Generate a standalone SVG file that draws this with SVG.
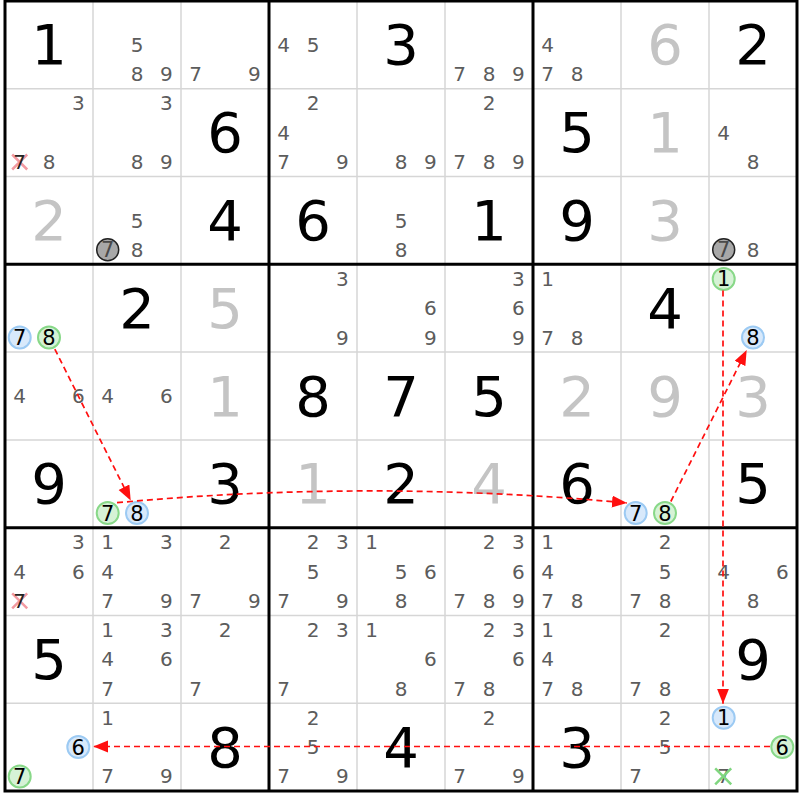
<svg xmlns="http://www.w3.org/2000/svg" width="800" height="800" viewBox="0 0 800 800">
<style>
text{font-family:"DejaVu Sans","Verdana",sans-serif;text-anchor:middle}
.b{font-size:56px;fill:#000}
.s{font-size:56px;fill:#c4c4c4}
.c{font-size:20px;fill:#5c5c5c}
.k{font-size:21px;fill:#000}
.kg{font-size:21px;fill:#4a4a4a}
.thin{stroke:#d6d6d6;stroke-width:1.5}
.thick{stroke:#000;stroke-width:3;fill:none}
.blue{fill:#d8e9fb;stroke:#9ccaf3;stroke-width:2}
.green{fill:#d6f2d6;stroke:#88d888;stroke-width:2}
.grey{fill:#a8a8a8;stroke:#222;stroke-width:1.5}
.xr{stroke:#f29aa2;stroke-width:2.5}
.xg{stroke:#7fd67f;stroke-width:2.5}
.arr{fill:none;stroke:#ff0f0f;stroke-width:1.7;stroke-dasharray:6 4}
</style>
<defs>
<marker id="ah" markerUnits="userSpaceOnUse" markerWidth="16" markerHeight="13" refX="15" refY="6" orient="auto">
<path d="M0,0 L15,6 L0,12 z" fill="#ff0f0f"/>
</marker>
</defs>
<rect x="0" y="0" width="800" height="800" fill="#fff"/>
<g id="grid">
<path class="thin" d="M93,1V791M181,1V791M357,1V791M445,1V791M621,1V791M709,1V791M5,88.8H797M5,176.6H797M5,352.1H797M5,439.9H797M5,615.5H797M5,703.2H797"/>
<path class="thick" d="M269,1V791M533,1V791M5,264.3H797M5,527.7H797"/>
<rect class="thick" x="5" y="1" width="792" height="790"/>
</g>
<!-- row 0 -->
<g id="r0c0"><text class="b" x="49" y="64.4">1</text></g>
<g id="r0c1"><text class="c" x="137" y="51.9">5</text><text class="c" x="137" y="81.2">8</text><text class="c" x="166.3" y="81.2">9</text></g>
<g id="r0c2"><text class="c" x="195.7" y="81.2">7</text><text class="c" x="254.3" y="81.2">9</text></g>
<g id="r0c3"><text class="c" x="283.7" y="51.9">4</text><text class="c" x="313" y="51.9">5</text></g>
<g id="r0c4"><text class="b" x="401" y="64.4">3</text></g>
<g id="r0c5"><text class="c" x="459.7" y="81.2">7</text><text class="c" x="489" y="81.2">8</text><text class="c" x="518.3" y="81.2">9</text></g>
<g id="r0c6"><text class="c" x="547.7" y="51.9">4</text><text class="c" x="547.7" y="81.2">7</text><text class="c" x="577" y="81.2">8</text></g>
<g id="r0c7"><text class="s" x="665" y="64.4">6</text></g>
<g id="r0c8"><text class="b" x="753" y="64.4">2</text></g>
<!-- row 1 -->
<g id="r1c0"><text class="c" x="78.3" y="110.4">3</text><path class="xr" d="M12.2,154.5L27.2,169.5M27.2,154.5L12.2,169.5"/><text class="k" x="19.7" y="169" style="font-size:20px;fill:#222">7</text><text class="c" x="49" y="169">8</text></g>
<g id="r1c1"><text class="c" x="166.3" y="110.4">3</text><text class="c" x="137" y="169">8</text><text class="c" x="166.3" y="169">9</text></g>
<g id="r1c2"><text class="b" x="225" y="152.2">6</text></g>
<g id="r1c3"><text class="c" x="313" y="110.4">2</text><text class="c" x="283.7" y="139.7">4</text><text class="c" x="283.7" y="169">7</text><text class="c" x="342.3" y="169">9</text></g>
<g id="r1c4"><text class="c" x="401" y="169">8</text><text class="c" x="430.3" y="169">9</text></g>
<g id="r1c5"><text class="c" x="489" y="110.4">2</text><text class="c" x="459.7" y="169">7</text><text class="c" x="489" y="169">8</text><text class="c" x="518.3" y="169">9</text></g>
<g id="r1c6"><text class="b" x="577" y="152.2">5</text></g>
<g id="r1c7"><text class="s" x="665" y="152.2">1</text></g>
<g id="r1c8"><text class="c" x="723.7" y="139.7">4</text><text class="c" x="753" y="169">8</text></g>
<!-- row 2 -->
<g id="r2c0"><text class="s" x="49" y="240">2</text></g>
<g id="r2c1"><text class="c" x="137" y="227.5">5</text><circle class="grey" cx="107.7" cy="249.8" r="11"/><text class="kg" x="107.7" y="257.3">7</text><text class="c" x="137" y="256.8">8</text></g>
<g id="r2c2"><text class="b" x="225" y="240">4</text></g>
<g id="r2c3"><text class="b" x="313" y="240">6</text></g>
<g id="r2c4"><text class="c" x="401" y="227.5">5</text><text class="c" x="401" y="256.8">8</text></g>
<g id="r2c5"><text class="b" x="489" y="240">1</text></g>
<g id="r2c6"><text class="b" x="577" y="240">9</text></g>
<g id="r2c7"><text class="s" x="665" y="240">3</text></g>
<g id="r2c8"><circle class="grey" cx="723.7" cy="249.8" r="11"/><text class="kg" x="723.7" y="257.3">7</text><text class="c" x="753" y="256.8">8</text></g>
<!-- row 3 -->
<g id="r3c0"><circle class="blue" cx="19.7" cy="337.5" r="11"/><text class="k" x="19.7" y="345">7</text><circle class="green" cx="49" cy="337.5" r="11"/><text class="k" x="49" y="345">8</text></g>
<g id="r3c1"><text class="b" x="137" y="327.7">2</text></g>
<g id="r3c2"><text class="s" x="225" y="327.7">5</text></g>
<g id="r3c3"><text class="c" x="342.3" y="285.9">3</text><text class="c" x="342.3" y="344.5">9</text></g>
<g id="r3c4"><text class="c" x="430.3" y="315.2">6</text><text class="c" x="430.3" y="344.5">9</text></g>
<g id="r3c5"><text class="c" x="518.3" y="285.9">3</text><text class="c" x="518.3" y="315.2">6</text><text class="c" x="518.3" y="344.5">9</text></g>
<g id="r3c6"><text class="c" x="547.7" y="285.9">1</text><text class="c" x="547.7" y="344.5">7</text><text class="c" x="577" y="344.5">8</text></g>
<g id="r3c7"><text class="b" x="665" y="327.7">4</text></g>
<g id="r3c8"><circle class="green" cx="723.7" cy="278.9" r="11"/><text class="k" x="723.7" y="286.4">1</text><circle class="blue" cx="753" cy="337.5" r="11"/><text class="k" x="753" y="345">8</text></g>
<!-- row 4 -->
<g id="r4c0"><text class="c" x="19.7" y="403">4</text><text class="c" x="78.3" y="403">6</text></g>
<g id="r4c1"><text class="c" x="107.7" y="403">4</text><text class="c" x="166.3" y="403">6</text></g>
<g id="r4c2"><text class="s" x="225" y="415.5">1</text></g>
<g id="r4c3"><text class="b" x="313" y="415.5">8</text></g>
<g id="r4c4"><text class="b" x="401" y="415.5">7</text></g>
<g id="r4c5"><text class="b" x="489" y="415.5">5</text></g>
<g id="r4c6"><text class="s" x="577" y="415.5">2</text></g>
<g id="r4c7"><text class="s" x="665" y="415.5">9</text></g>
<g id="r4c8"><text class="s" x="753" y="415.5">3</text></g>
<!-- row 5 -->
<g id="r5c0"><text class="b" x="49" y="503.3">9</text></g>
<g id="r5c1"><circle class="green" cx="107.7" cy="513.1" r="11"/><text class="k" x="107.7" y="520.6">7</text><circle class="blue" cx="137" cy="513.1" r="11"/><text class="k" x="137" y="520.6">8</text></g>
<g id="r5c2"><text class="b" x="225" y="503.3">3</text></g>
<g id="r5c3"><text class="s" x="313" y="503.3">1</text></g>
<g id="r5c4"><text class="b" x="401" y="503.3">2</text></g>
<g id="r5c5"><text class="s" x="489" y="503.3">4</text></g>
<g id="r5c6"><text class="b" x="577" y="503.3">6</text></g>
<g id="r5c7"><circle class="blue" cx="635.7" cy="513.1" r="11"/><text class="k" x="635.7" y="520.6">7</text><circle class="green" cx="665" cy="513.1" r="11"/><text class="k" x="665" y="520.6">8</text></g>
<g id="r5c8"><text class="b" x="753" y="503.3">5</text></g>
<!-- row 6 -->
<g id="r6c0"><text class="c" x="78.3" y="549.3">3</text><text class="c" x="19.7" y="578.6">4</text><text class="c" x="78.3" y="578.6">6</text><path class="xr" d="M12.2,593.4L27.2,608.4M27.2,593.4L12.2,608.4"/><text class="k" x="19.7" y="607.9" style="font-size:20px;fill:#222">7</text></g>
<g id="r6c1"><text class="c" x="107.7" y="549.3">1</text><text class="c" x="166.3" y="549.3">3</text><text class="c" x="107.7" y="578.6">4</text><text class="c" x="107.7" y="607.9">7</text><text class="c" x="166.3" y="607.9">9</text></g>
<g id="r6c2"><text class="c" x="225" y="549.3">2</text><text class="c" x="195.7" y="607.9">7</text><text class="c" x="254.3" y="607.9">9</text></g>
<g id="r6c3"><text class="c" x="313" y="549.3">2</text><text class="c" x="342.3" y="549.3">3</text><text class="c" x="313" y="578.6">5</text><text class="c" x="283.7" y="607.9">7</text><text class="c" x="342.3" y="607.9">9</text></g>
<g id="r6c4"><text class="c" x="371.7" y="549.3">1</text><text class="c" x="401" y="578.6">5</text><text class="c" x="430.3" y="578.6">6</text><text class="c" x="401" y="607.9">8</text></g>
<g id="r6c5"><text class="c" x="489" y="549.3">2</text><text class="c" x="518.3" y="549.3">3</text><text class="c" x="518.3" y="578.6">6</text><text class="c" x="459.7" y="607.9">7</text><text class="c" x="489" y="607.9">8</text><text class="c" x="518.3" y="607.9">9</text></g>
<g id="r6c6"><text class="c" x="547.7" y="549.3">1</text><text class="c" x="547.7" y="578.6">4</text><text class="c" x="547.7" y="607.9">7</text><text class="c" x="577" y="607.9">8</text></g>
<g id="r6c7"><text class="c" x="665" y="549.3">2</text><text class="c" x="665" y="578.6">5</text><text class="c" x="635.7" y="607.9">7</text><text class="c" x="665" y="607.9">8</text></g>
<g id="r6c8"><text class="c" x="723.7" y="578.6">4</text><text class="c" x="782.3" y="578.6">6</text><text class="c" x="753" y="607.9">8</text></g>
<!-- row 7 -->
<g id="r7c0"><text class="b" x="49" y="678.9">5</text></g>
<g id="r7c1"><text class="c" x="107.7" y="637.1">1</text><text class="c" x="166.3" y="637.1">3</text><text class="c" x="107.7" y="666.4">4</text><text class="c" x="166.3" y="666.4">6</text><text class="c" x="107.7" y="695.7">7</text></g>
<g id="r7c2"><text class="c" x="225" y="637.1">2</text><text class="c" x="195.7" y="695.7">7</text></g>
<g id="r7c3"><text class="c" x="313" y="637.1">2</text><text class="c" x="342.3" y="637.1">3</text><text class="c" x="283.7" y="695.7">7</text></g>
<g id="r7c4"><text class="c" x="371.7" y="637.1">1</text><text class="c" x="430.3" y="666.4">6</text><text class="c" x="401" y="695.7">8</text></g>
<g id="r7c5"><text class="c" x="489" y="637.1">2</text><text class="c" x="518.3" y="637.1">3</text><text class="c" x="518.3" y="666.4">6</text><text class="c" x="459.7" y="695.7">7</text><text class="c" x="489" y="695.7">8</text></g>
<g id="r7c6"><text class="c" x="547.7" y="637.1">1</text><text class="c" x="547.7" y="666.4">4</text><text class="c" x="547.7" y="695.7">7</text><text class="c" x="577" y="695.7">8</text></g>
<g id="r7c7"><text class="c" x="665" y="637.1">2</text><text class="c" x="635.7" y="695.7">7</text><text class="c" x="665" y="695.7">8</text></g>
<g id="r7c8"><text class="b" x="753" y="678.9">9</text></g>
<!-- row 8 -->
<g id="r8c0"><circle class="blue" cx="78.3" cy="747.1" r="11"/><text class="k" x="78.3" y="754.6">6</text><circle class="green" cx="19.7" cy="776.4" r="11"/><text class="k" x="19.7" y="783.9">7</text></g>
<g id="r8c1"><text class="c" x="107.7" y="724.8">1</text><text class="c" x="107.7" y="783.4">7</text><text class="c" x="166.3" y="783.4">9</text></g>
<g id="r8c2"><text class="b" x="225" y="766.6">8</text></g>
<g id="r8c3"><text class="c" x="313" y="724.8">2</text><text class="c" x="313" y="754.1">5</text><text class="c" x="283.7" y="783.4">7</text><text class="c" x="342.3" y="783.4">9</text></g>
<g id="r8c4"><text class="b" x="401" y="766.6">4</text></g>
<g id="r8c5"><text class="c" x="489" y="724.8">2</text><text class="c" x="459.7" y="783.4">7</text><text class="c" x="518.3" y="783.4">9</text></g>
<g id="r8c6"><text class="b" x="577" y="766.6">3</text></g>
<g id="r8c7"><text class="c" x="665" y="724.8">2</text><text class="c" x="665" y="754.1">5</text><text class="c" x="635.7" y="783.4">7</text></g>
<g id="r8c8"><circle class="blue" cx="723.7" cy="717.8" r="11"/><text class="k" x="723.7" y="725.3">1</text><circle class="green" cx="782.3" cy="747.1" r="11"/><text class="k" x="782.3" y="754.6">6</text><text class="c" x="723.7" y="783.4">7</text><path class="xg" d="M715.2,768.4L731.2,784.4M731.2,768.4L715.2,784.4"/></g>
<g id="connectors">
<path class="arr" marker-end="url(#ah)" d="M54.8,349.1L130.7,500.6"/>
<path class="arr" marker-end="url(#ah)" d="M117,502.7Q372,479 627,503"/>
<path class="arr" marker-end="url(#ah)" d="M670.8,501.5L746.7,350"/>
<path class="arr" marker-end="url(#ah)" d="M723,290.5L723,703.7"/>
<path class="arr" marker-end="url(#ah)" d="M770,746.5L93.3,746.5"/>
</g>
</svg>
